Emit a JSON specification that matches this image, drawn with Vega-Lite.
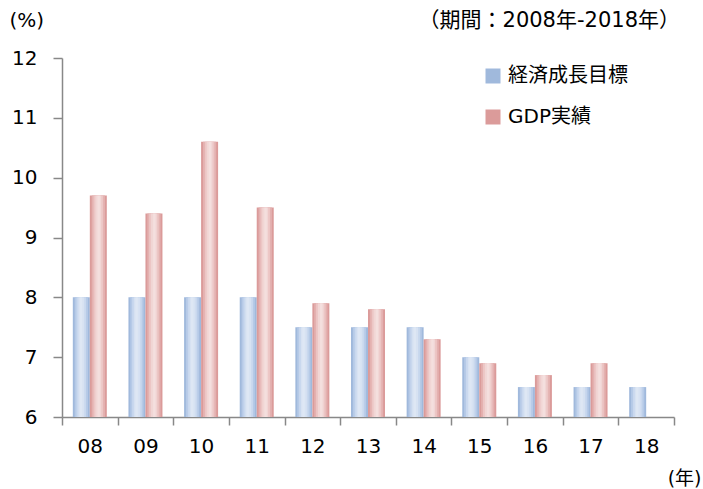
{
  "$schema": "https://vega.github.io/schema/vega-lite/v6.json",
  "width": 612,
  "height": 359,
  "autosize": "none",
  "padding": {"left": 62, "top": 58, "right": 29, "bottom": 72},
  "background": "white",
  "config": {
    "view": {"stroke": null},
    "font": "DejaVu Sans, Noto Sans CJK JP, sans-serif",
    "axis": {
      "domainColor": "#888888",
      "tickColor": "#888888",
      "domainWidth": 1.5,
      "tickWidth": 1.5,
      "labelColor": "#000000",
      "labelFontSize": 20,
      "titleFontSize": 20,
      "titleFontWeight": "normal",
      "titleColor": "#000000",
      "grid": false
    }
  },
  "title": {
    "text": "（期間：2008年-2018年）",
    "anchor": "end",
    "frame": "group",
    "fontSize": 21,
    "fontWeight": "normal",
    "color": "#000000",
    "dx": 6,
    "offset": -21
  },
  "data": {
    "values": [
      {"year": "08", "series": "経済成長目標", "value": 8},
      {"year": "08", "series": "GDP実績", "value": 9.7},
      {"year": "09", "series": "経済成長目標", "value": 8},
      {"year": "09", "series": "GDP実績", "value": 9.4},
      {"year": "10", "series": "経済成長目標", "value": 8},
      {"year": "10", "series": "GDP実績", "value": 10.6},
      {"year": "11", "series": "経済成長目標", "value": 8},
      {"year": "11", "series": "GDP実績", "value": 9.5},
      {"year": "12", "series": "経済成長目標", "value": 7.5},
      {"year": "12", "series": "GDP実績", "value": 7.9},
      {"year": "13", "series": "経済成長目標", "value": 7.5},
      {"year": "13", "series": "GDP実績", "value": 7.8},
      {"year": "14", "series": "経済成長目標", "value": 7.5},
      {"year": "14", "series": "GDP実績", "value": 7.3},
      {"year": "15", "series": "経済成長目標", "value": 7.0},
      {"year": "15", "series": "GDP実績", "value": 6.9},
      {"year": "16", "series": "経済成長目標", "value": 6.5},
      {"year": "16", "series": "GDP実績", "value": 6.7},
      {"year": "17", "series": "経済成長目標", "value": 6.5},
      {"year": "17", "series": "GDP実績", "value": 6.9},
      {"year": "18", "series": "経済成長目標", "value": 6.5}
    ]
  },
  "resolve": {"scale": {"xOffset": "independent"}},
  "encoding": {
    "x": {
      "field": "year",
      "type": "nominal",
      "sort": null,
      "scale": {"domain": ["08","09","10","11","12","13","14","15","16","17","18"], "paddingInner": 0, "paddingOuter": 0},
      "axis": {
        "title": "(年)",
        "titleAngle": 0,
        "titleX": 639,
        "titleY": 61,
        "titleAlign": "right",
        "titleBaseline": "middle",
        "titleFontSize": 19,
        "labelAngle": 0,
        "tickBand": "extent",
        "tickSize": 8,
        "labelPadding": 11
      }
    },
    "y": {
      "field": "value",
      "type": "quantitative",
      "scale": {"domain": [6, 12], "zero": false, "nice": false},
      "axis": {
        "title": "(%)",
        "titleAngle": 0,
        "titleX": -53,
        "titleY": -38,
        "titleAlign": "left",
        "titleBaseline": "middle",
        "values": [6,7,8,9,10,11,12],
        "tickSize": 9,
        "labelPadding": 16
      }
    },
    "y2": {"datum": 6}
  },
  "layer": [
    {
      "mark": {"type": "bar"},
      "encoding": {
        "xOffset": {"field": "series", "type": "nominal", "scale": {"domain": ["経済成長目標", "GDP実績"], "paddingInner": 0, "paddingOuter": 0.636}},
        "color": {
          "field": "series",
          "type": "nominal",
          "scale": {"domain": ["経済成長目標", "GDP実績"], "range": ["#a0b9dc", "#db9b9a"]},
          "legend": {
            "title": null,
            "orient": "none",
            "legendX": 421,
            "legendY": 8,
            "symbolType": "square",
            "symbolSize": 225,
            "symbolStrokeWidth": 0,
            "symbolOpacity": 1,
            "labelFontSize": 20,
            "labelColor": "#000000",
            "labelOffset": 5,
            "rowPadding": 21,
            "labelLimit": 300
          }
        }
      }
    },
    {
      "mark": {"type": "bar"},
      "encoding": {
        "xOffset": {"field": "series", "type": "nominal", "scale": {"domain": ["経済成長目標", "GDP実績"], "paddingInner": 0.22, "paddingOuter": 0.746}},
        "color": {"condition": {"test": "datum.series === '経済成長目標'", "value": "#b6cae7"}, "value": "#e4b1b0"}
      }
    },
    {
      "mark": {"type": "bar"},
      "encoding": {
        "xOffset": {"field": "series", "type": "nominal", "scale": {"domain": ["経済成長目標", "GDP実績"], "paddingInner": 0.44, "paddingOuter": 0.856}},
        "color": {"condition": {"test": "datum.series === '経済成長目標'", "value": "#c9d8ee"}, "value": "#ecc6c5"}
      }
    },
    {
      "mark": {"type": "bar"},
      "encoding": {
        "xOffset": {"field": "series", "type": "nominal", "scale": {"domain": ["経済成長目標", "GDP実績"], "paddingInner": 0.66, "paddingOuter": 0.966}},
        "color": {"condition": {"test": "datum.series === '経済成長目標'", "value": "#d7e2f2"}, "value": "#f1d6d5"}
      }
    },
    {
      "mark": {"type": "bar"},
      "encoding": {
        "xOffset": {"field": "series", "type": "nominal", "scale": {"domain": ["経済成長目標", "GDP実績"], "paddingInner": 0.86, "paddingOuter": 1.066}},
        "color": {"condition": {"test": "datum.series === '経済成長目標'", "value": "#dee7f4"}, "value": "#f4dfde"}
      }
    }
  ]
}
